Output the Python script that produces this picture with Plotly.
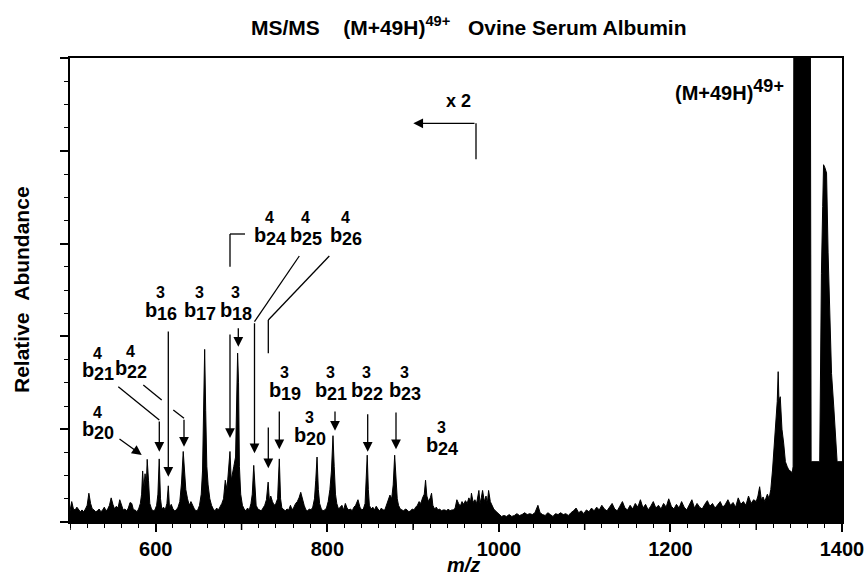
import plotly.graph_objects as go

# ---------------- data ----------------
mz = [500, 502, 504, 506, 508, 510, 512, 514, 516, 518, 520, 522, 524, 526, 528, 530, 532, 534, 536, 538,
      540, 542, 544, 546, 548, 550, 552, 554, 556, 558, 560, 562, 564, 566, 568, 570, 572, 574, 576, 578,
      580, 582, 583.5, 584.7, 586, 587.5, 589, 590, 591.5, 593, 595, 597, 599, 601, 602.5, 604, 605.5, 607,
      609, 611, 613, 614.6, 616, 618, 620, 622, 624, 626, 628, 630, 632, 633.5, 635, 637, 639, 641, 643, 645,
      647, 649, 651, 653, 654.5, 656, 657, 658.2, 659.5, 661, 663, 665, 667, 669, 671, 673, 675, 677, 679,
      681, 683, 684.5, 686.5, 688, 689.5, 691, 693, 694.5, 695.4, 696.5, 697.5, 699, 701, 703, 705, 707, 709,
      711, 712.5, 714.2, 715.8, 717, 719, 721, 723, 725, 727, 729, 731, 732.5, 734, 736, 738, 740, 742, 744,
      745.5, 747, 749, 751, 753, 755, 757, 759, 761, 763, 765, 767, 769, 771, 773, 775, 777, 779, 781, 783,
      785, 786.5, 788, 789.5, 791, 793, 795, 797, 799, 801, 803, 804.8, 806.6, 808, 809.5, 811, 813, 815, 817,
      819, 821, 823, 825, 827, 829, 831, 833, 835.7, 838, 840, 842, 844, 845.5, 846.5, 847.8, 849, 851, 853,
      855, 857, 859, 861, 863, 865, 867, 869, 871, 873, 875, 876.8, 878.5, 880, 881.5, 883, 885, 887, 889,
      891, 893, 895, 897, 899, 901, 903, 905, 907, 909, 911, 913, 914.5, 916, 918, 920, 921.5, 923, 925, 927,
      929, 931, 933, 935, 937, 939, 941, 943, 945, 947, 949, 951, 953, 955, 957, 959, 961, 963, 965, 967, 968,
      970, 972, 974, 976.7, 978, 979.5, 981, 983, 985, 986.5, 988, 990, 992, 994, 996, 998, 1000, 1003, 1006,
      1009, 1012, 1015, 1018, 1021, 1024, 1027, 1030, 1033, 1036, 1039, 1042, 1045.5, 1048, 1051, 1054, 1057,
      1060, 1063, 1066, 1069, 1072, 1075, 1078, 1081, 1084, 1087, 1090, 1093, 1096, 1099, 1102, 1105, 1108,
      1111, 1114, 1117, 1120, 1123, 1126, 1129, 1132, 1135, 1138, 1141, 1144, 1147, 1150, 1153, 1156, 1159,
      1162, 1165, 1168, 1171, 1174, 1177, 1180, 1183, 1186, 1189, 1192, 1195, 1198, 1201, 1204, 1207, 1210,
      1213, 1216, 1219, 1222, 1225, 1228, 1231, 1234, 1237, 1240, 1243, 1246, 1249, 1252, 1255, 1258, 1261,
      1264, 1267, 1270, 1273, 1276, 1279, 1282, 1285, 1288, 1291, 1294, 1297, 1300, 1302, 1304, 1306, 1308,
      1310, 1313, 1315, 1317, 1319, 1321, 1323, 1324.5, 1325.6, 1326.5, 1328, 1330, 1332, 1334, 1336, 1338,
      1340, 1342, 1343, 1344, 1363, 1364, 1374, 1375, 1376, 1377.5, 1378.5, 1380, 1382, 1383.8, 1385.8,
      1387.8, 1390.4, 1392.8, 1394.3, 1400]

abundance = [0.12, 0.22, 0.14, 0.13, 0.16, 0.13, 0.11, 0.13, 0.11, 0.14, 0.18, 0.31, 0.20, 0.14, 0.13, 0.11, 0.12, 0.14, 0.11, 0.13,
             0.16, 0.12, 0.14, 0.18, 0.26, 0.19, 0.14, 0.17, 0.15, 0.24, 0.17, 0.13, 0.14, 0.12, 0.15, 0.21, 0.20, 0.13, 0.13, 0.11,
             0.14, 0.20, 0.30, 0.55, 0.35, 0.52, 0.40, 0.675, 0.45, 0.20, 0.14, 0.12, 0.13, 0.18, 0.30, 0.68, 0.25, 0.14,
             0.16, 0.13, 0.20, 0.39, 0.15, 0.19, 0.14, 0.12, 0.13, 0.16, 0.22, 0.42, 0.76, 0.55, 0.35, 0.25, 0.18, 0.22, 0.17, 0.14,
             0.12, 0.13, 0.18, 0.30, 0.55, 1.30, 1.86, 1.20, 0.60, 0.40, 0.25, 0.18, 0.14, 0.12, 0.15, 0.13, 0.16, 0.20, 0.25,
             0.45, 0.35, 0.50, 0.76, 0.45, 0.55, 0.60, 0.70, 1.40, 1.82, 1.50, 0.60, 0.30, 0.18, 0.14, 0.12, 0.15, 0.13,
             0.20, 0.30, 0.61, 0.30, 0.18, 0.14, 0.13, 0.12, 0.15, 0.18, 0.24, 0.43, 0.22, 0.28, 0.22, 0.18, 0.20, 0.25, 0.68,
             0.25, 0.15, 0.13, 0.12, 0.14, 0.13, 0.18, 0.13, 0.16, 0.20, 0.22, 0.26, 0.32, 0.24, 0.18, 0.13, 0.12, 0.14, 0.13, 0.16,
             0.25, 0.45, 0.70, 0.35, 0.20, 0.14, 0.12, 0.13, 0.15, 0.22, 0.35, 0.55, 0.93, 0.60, 0.30, 0.20, 0.14, 0.16, 0.18,
             0.13, 0.20, 0.15, 0.13, 0.14, 0.12, 0.16, 0.18, 0.24, 0.16, 0.13, 0.14, 0.20, 0.50, 0.72, 0.35, 0.18, 0.14, 0.16,
             0.13, 0.17, 0.14, 0.12, 0.15, 0.13, 0.13, 0.18, 0.22, 0.29, 0.25, 0.40, 0.72, 0.40, 0.25, 0.18, 0.14, 0.13, 0.12,
             0.14, 0.13, 0.11, 0.12, 0.14, 0.13, 0.16, 0.18, 0.22, 0.20, 0.26, 0.30, 0.45, 0.28, 0.22, 0.26, 0.31, 0.18, 0.14, 0.16,
             0.13, 0.14, 0.12, 0.13, 0.13, 0.12, 0.14, 0.12, 0.13, 0.13, 0.15, 0.24, 0.20, 0.17, 0.22, 0.19, 0.23, 0.20, 0.26, 0.22, 0.31,
             0.21, 0.24, 0.20, 0.34, 0.20, 0.26, 0.34, 0.22, 0.28, 0.20, 0.34, 0.22, 0.18, 0.14, 0.12, 0.10, 0.08, 0.06, 0.07,
             0.06, 0.08, 0.06, 0.07, 0.09, 0.07, 0.08, 0.10, 0.08, 0.09, 0.08, 0.10, 0.18, 0.10, 0.08, 0.07, 0.10,
             0.08, 0.06, 0.09, 0.08, 0.10, 0.08, 0.09, 0.07, 0.10, 0.12, 0.15, 0.10, 0.12, 0.09, 0.13, 0.11, 0.15,
             0.12, 0.16, 0.13, 0.18, 0.14, 0.12, 0.16, 0.20, 0.14, 0.12, 0.17, 0.22, 0.15, 0.13, 0.18, 0.14, 0.20,
             0.16, 0.24, 0.15, 0.19, 0.13, 0.17, 0.22, 0.15, 0.18, 0.14, 0.20, 0.16, 0.25, 0.17, 0.14, 0.19, 0.15,
             0.22, 0.16, 0.13, 0.18, 0.24, 0.15, 0.20, 0.16, 0.14, 0.19, 0.23, 0.17, 0.20, 0.15, 0.18, 0.22, 0.16,
             0.19, 0.24, 0.18, 0.21, 0.16, 0.26, 0.19, 0.22, 0.18, 0.28, 0.20, 0.24, 0.22, 0.28, 0.38, 0.24, 0.27,
             0.22, 0.30, 0.25, 0.35, 0.56, 0.80, 1.05, 1.30, 1.62, 1.30, 1.35, 1.00, 0.85, 0.65, 0.60, 0.56,
             0.55, 0.53, 0.60, 6.0, 6.0, 0.65, 0.65, 2.2, 2.68, 3.4, 3.85, 3.82, 3.76, 2.90, 2.14,
             1.60, 1.24, 0.78, 0.65, 0.65]

x_label_values = [600, 800, 1000, 1200, 1400]
x_label_texts = ["600", "800", "1000", "1200", "1400"]
x_unlabeled_major = [500, 700, 900, 1100, 1300]
y_tick_values = [0, 1, 2, 3, 4, 5]

# ion labels: (subscript, superscript)
ion_sub = ["20", "21", "22", "16", "17", "18", "24", "25", "26", "19", "20", "21", "22", "23", "24"]
ion_sup = ["4", "4", "4", "3", "3", "3", "4", "4", "4", "3", "3", "3", "3", "3", "3"]

# ---------------- layout helpers ----------------
W, H = 864, 577
L, R, T, B = 70, 842, 58, 522
XMIN, XMAX, YMIN, YMAX = 500, 1400, 0, 5
MAJOR_LEN = 8


def dx(px):
    return XMIN + (px - L) * (XMAX - XMIN) / (R - L)


def dy(py):
    return YMIN + (B - py) * (YMAX - YMIN) / (B - T)


def paper_x(px):
    return (px - L) / (R - L)


def paper_y(py):
    return (B - py) / (B - T)


FONT = "Liberation Sans, Arial, Helvetica, sans-serif"

fig = go.Figure()
fig.add_trace(go.Scatter(x=mz, y=abundance, mode="lines", fill="tozeroy",
                         line=dict(color="black", width=1), fillcolor="black",
                         hoverinfo="skip", showlegend=False))

annotations = []
shapes = []

# long (major) ticks at the unlabelled hundreds
for v in x_unlabeled_major:
    shapes.append(dict(type="line", xref="x", yref="paper", x0=v, x1=v, y0=0, y1=-MAJOR_LEN / (B - T),
                       line=dict(color="black", width=1.5)))

# ion label placement (pixel: left of "b", vertical centre of "b")
ion_pos = [(80, 429), (80, 370), (113, 368), (143, 309.7), (181.7, 309.7), (218.3, 309.7),
           (251.7, 234.7), (288.3, 234.7), (328.3, 234.7), (266.7, 389.7), (291.7, 434.7),
           (313.3, 389.7), (349.3, 389.7), (386.7, 389.7), (424, 444.7)]
for (bx, by), sb, sp in zip(ion_pos, ion_sub, ion_sup):
    annotations.append(dict(x=dx(bx), y=dy(by), xref="x", yref="y", text="b", showarrow=False,
                            xanchor="left", yanchor="middle",
                            font=dict(family=FONT, size=20, color="black", weight="bold")))
    annotations.append(dict(x=dx(bx + 12), y=dy(by + 4), xref="x", yref="y", text=sb, showarrow=False,
                            xanchor="left", yanchor="middle",
                            font=dict(family=FONT, size=18, color="black", weight="bold")))
    annotations.append(dict(x=dx(bx + 17.5), y=dy(by - 17), xref="x", yref="y", text=sp, showarrow=False,
                            xanchor="center", yanchor="middle",
                            font=dict(family=FONT, size=16, color="black", weight="bold")))

# plain line segments (pixel coordinates of the annotation leader lines)
segments = [
    [(118.3, 386.7), (159.3, 420)],
    [(143.3, 385), (161.7, 400)],
    [(173.3, 410), (184, 418.3)],
    [(245, 234), (230, 234), (230, 266.7)],
    [(299.3, 256), (254.5, 321.7)],
    [(329.3, 256), (268.3, 320), (268.3, 353.3)],
    [(476, 159.3), (476, 123.3)],
]
for seg in segments:
    for (x0, y0), (x1, y1) in zip(seg[:-1], seg[1:]):
        shapes.append(dict(type="line", xref="x", yref="y", x0=dx(x0), y0=dy(y0), x1=dx(x1), y1=dy(y1),
                           line=dict(color="black", width=1.3)))

# arrows: (tail, head)
arrows = [
    ((118, 438), (141.7, 455)),
    ((159.3, 420), (159.3, 451.7)),
    ((184, 418.3), (184, 446.7)),
    ((168.3, 330), (168.3, 476.7)),
    ((238.3, 326.7), (238.3, 346.7)),
    ((230, 333), (230, 438)),
    ((254.5, 321.7), (254.5, 453.3)),
    ((268.3, 426), (268.3, 468.3)),
    ((279.3, 410), (279.3, 449.3)),
    ((335, 410), (335, 430.7)),
    ((367.7, 412.7), (367.7, 451.7)),
    ((396, 411), (396, 449.3)),
    ((476, 123.3), (413.3, 123.3)),
]
for (tx, ty), (hx, hy) in arrows:
    annotations.append(dict(x=dx(hx), y=dy(hy), ax=dx(tx), ay=dy(ty), xref="x", yref="y",
                            axref="x", ayref="y", text="", showarrow=True,
                            arrowhead=2, arrowsize=1.5, arrowwidth=1.3, arrowcolor="black"))

# other texts
annotations.append(dict(x=dx(458), y=dy(101), xref="x", yref="y", text="x 2", showarrow=False,
                        xanchor="center", yanchor="middle",
                        font=dict(family=FONT, size=18, color="black", weight="bold")))
annotations.append(dict(x=dx(786), y=dy(90), xref="x", yref="y",
                        text="(M+49H)<sup><span style='font-size:18px'>49+</span></sup>",
                        showarrow=False, xanchor="right", yanchor="middle",
                        font=dict(family=FONT, size=20, color="black", weight="bold")))
annotations.append(dict(x=paper_x(469), y=paper_y(26), xref="paper", yref="paper",
                        text="MS/MS\u00a0\u00a0\u00a0\u00a0(M+49H)<sup>49+</sup>\u00a0\u00a0\u00a0Ovine Serum Albumin",
                        showarrow=False, xanchor="center", yanchor="middle",
                        font=dict(family=FONT, size=21, color="black", weight="bold")))
annotations.append(dict(x=paper_x(21), y=paper_y(290), xref="paper", yref="paper",
                        text="Relative\u00a0\u00a0Abundance", textangle=-90, showarrow=False,
                        xanchor="center", yanchor="middle",
                        font=dict(family=FONT, size=21, color="black", weight="bold")))
annotations.append(dict(x=paper_x(463), y=paper_y(565), xref="paper", yref="paper",
                        text="<i>m/z</i>", showarrow=False, xanchor="center", yanchor="middle",
                        font=dict(family=FONT, size=20, color="black", weight="bold")))

fig.update_layout(
    width=W, height=H,
    margin=dict(l=L, r=W - R, t=T, b=H - B, autoexpand=False),
    plot_bgcolor="white", paper_bgcolor="white",
    showlegend=False,
    annotations=annotations, shapes=shapes,
    xaxis=dict(range=[XMIN, XMAX], showgrid=False, zeroline=False, automargin=False,
               showline=True, linecolor="black", linewidth=2, mirror=True,
               ticks="outside", ticklen=MAJOR_LEN, tickwidth=1.5, tickcolor="black",
               tickmode="array", tickvals=x_label_values, ticktext=x_label_texts,
               ticklabeloverflow="allow",
               tickfont=dict(family=FONT, size=20, color="black", weight="bold"),
               minor=dict(tickmode="linear", tick0=500, dtick=20, ticks="outside",
                          ticklen=4, tickwidth=1.2, tickcolor="black", showgrid=False)),
    yaxis=dict(range=[YMIN, YMAX], showgrid=False, zeroline=False, automargin=False,
               showline=True, linecolor="black", linewidth=1.5, mirror=True,
               ticks="outside", ticklen=MAJOR_LEN, tickwidth=1.5, tickcolor="black",
               tickmode="array", tickvals=y_tick_values, showticklabels=False,
               minor=dict(tickmode="linear", tick0=0, dtick=0.25, ticks="outside",
                          ticklen=4, tickwidth=1.2, tickcolor="black", showgrid=False)),
)

fig.write_html("out.html")
